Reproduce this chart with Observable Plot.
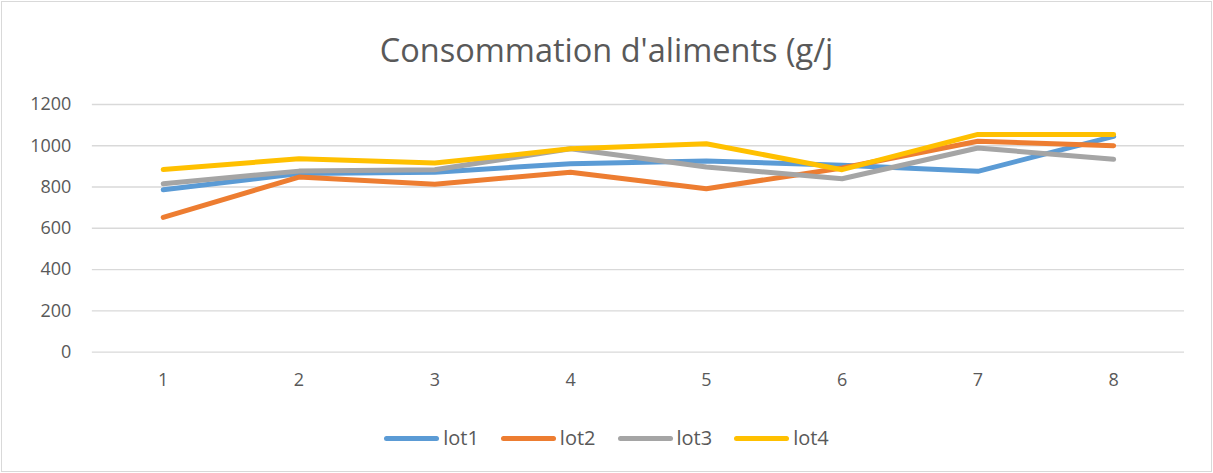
<!DOCTYPE html>
<html>
<head>
<meta charset="utf-8">
<script src="https://cdn.jsdelivr.net/npm/d3@7"></script>
<script src="https://cdn.jsdelivr.net/npm/@observablehq/plot@0.6"></script>
<style>
  html, body { margin: 0; padding: 0; background: #fff; }
  #wrap { position: relative; width: 1209px; height: 469px; border: 1px solid #d9d9d9; margin: 1px 0 0 1px; overflow: hidden; font-family: "Open Sans", sans-serif; color: #595959; }
  #title { position: absolute; top: 26px; left: 0; width: 100%; text-align: center; font-size: 32.5px; line-height: 44px; color: #595959; }
  #chart { position: absolute; top: 89px; left: -2px; }
  #legend { position: absolute; top: 422px; left: 0; width: 100%; display: flex; justify-content: center; font-size: 20px; line-height: 28px; color: #595959; }
  .item { display: flex; align-items: center; margin: 0 11px; }
  .swatch { width: 55px; height: 5px; border-radius: 3px; margin-right: 4px; }
</style>
</head>
<body>
<div id="wrap">
  <div id="title">Consommation d'aliments (g/j</div>
  <div id="chart"></div>
  <div id="legend"></div>
</div>
<script>
const days = [1, 2, 3, 4, 5, 6, 7, 8];
const lot1 = [787, 865, 872, 913, 926, 905, 876, 1045];
const lot2 = [653, 848, 813, 872, 792, 892, 1022, 1000];
const lot3 = [816, 877, 884, 985, 897, 840, 989, 934];
const lot4 = [885, 937, 916, 985, 1010, 884, 1055, 1055];
const seriesNames = ["lot1", "lot2", "lot3", "lot4"];
const seriesColors = ["#5B9BD5", "#ED7D31", "#A5A5A5", "#FFC000"];
const yTicks = [0, 200, 400, 600, 800, 1000, 1200];

const allSeries = [lot1, lot2, lot3, lot4];
const rows = [];
allSeries.forEach((vals, si) => {
  vals.forEach((v, i) => rows.push({ day: days[i], value: v, lot: seriesNames[si] }));
});

const chart = Plot.plot({
  width: 1213,
  height: 320,
  marginLeft: 92,
  marginRight: 27,
  marginTop: 13,
  marginBottom: 59,
  style: { fontFamily: "'Open Sans', sans-serif", fontSize: "18px", color: "#595959", background: "transparent" },
  x: { type: "point", domain: days, padding: 0.5, label: null },
  y: { domain: [0, 1200], ticks: yTicks, label: null },
  color: { domain: seriesNames, range: seriesColors },
  marks: [
    Plot.ruleY(yTicks, { stroke: "#d9d9d9", strokeWidth: 1.3 }),
    Plot.axisY({ ticks: yTicks, tickSize: 0, tickPadding: 21, label: null, fontSize: 18, tickFormat: d => String(d) }),
    Plot.axisX({ tickSize: 0, tickPadding: 21, label: null, fontSize: 18 }),
    Plot.line(rows, { x: "day", y: "value", z: "lot", stroke: "lot", strokeWidth: 5, strokeLinecap: "round", strokeLinejoin: "round" })
  ]
});
document.getElementById("chart").appendChild(chart);

const legend = document.getElementById("legend");
seriesNames.forEach((n, i) => {
  const it = document.createElement("div");
  it.className = "item";
  const sw = document.createElement("span");
  sw.className = "swatch";
  sw.style.background = seriesColors[i];
  const tx = document.createElement("span");
  tx.textContent = n;
  it.appendChild(sw);
  it.appendChild(tx);
  legend.appendChild(it);
});
</script>
</body>
</html>
